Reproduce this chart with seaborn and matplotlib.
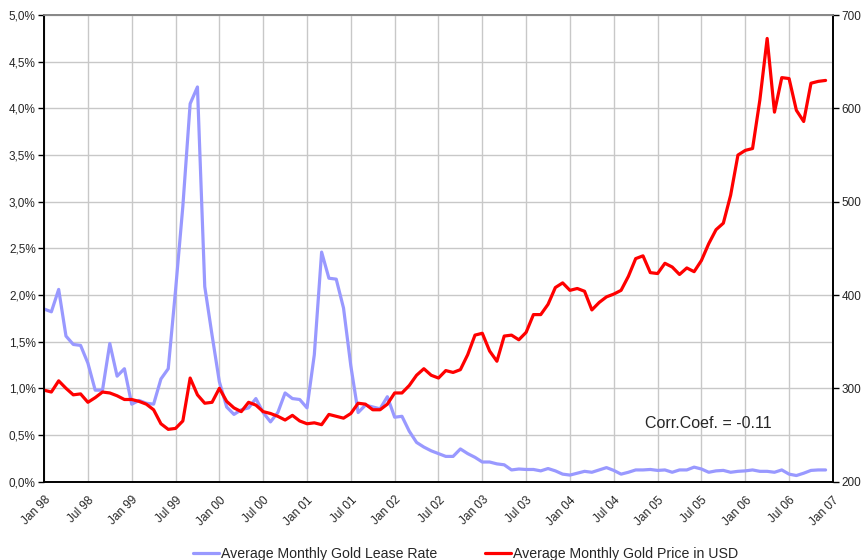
import numpy as np
import pandas as pd
import seaborn as sns
import matplotlib.pyplot as plt
from matplotlib.ticker import FuncFormatter

# x tick labels, one every 6 months
tick_labels = ["Jan 98", "Jul 98", "Jan 99", "Jul 99", "Jan 00", "Jul 00", "Jan 01",
               "Jul 01", "Jan 02", "Jul 02", "Jan 03", "Jul 03", "Jan 04", "Jul 04",
               "Jan 05", "Jul 05", "Jan 06", "Jul 06", "Jan 07"]

# average monthly gold lease rate (%)
lease_rate = [
    1.85, 1.82, 2.06, 1.56, 1.47, 1.46, 1.27, 0.98, 0.98, 1.48, 1.13, 1.21,
    0.83, 0.87, 0.84, 0.83, 1.10, 1.21, 2.05, 2.95, 4.05, 4.23, 2.09, 1.57,
    1.07, 0.80, 0.72, 0.77, 0.79, 0.89, 0.74, 0.64, 0.74, 0.95, 0.89, 0.88,
    0.79, 1.36, 2.46, 2.18, 2.17, 1.86, 1.24, 0.74, 0.82, 0.80, 0.78, 0.91,
    0.69, 0.70, 0.54, 0.42, 0.37, 0.33, 0.30, 0.27, 0.27, 0.35, 0.30, 0.26,
    0.21, 0.21, 0.19, 0.18, 0.125, 0.135, 0.13, 0.13, 0.115, 0.14, 0.115, 0.08,
    0.07, 0.09, 0.11, 0.10, 0.125, 0.15, 0.12, 0.08, 0.10, 0.125, 0.125, 0.13,
    0.12, 0.125, 0.10, 0.125, 0.125, 0.155, 0.135, 0.10, 0.115, 0.12, 0.10, 0.11,
    0.115, 0.125, 0.11, 0.11, 0.10, 0.125, 0.08, 0.065, 0.09, 0.12, 0.125, 0.125,
]

# average monthly gold price (USD)
gold_price = [
    298, 296, 308, 300, 293, 294, 285, 290, 296, 295, 292, 288,
    288, 286, 283, 277, 262, 256, 257, 265, 311, 293, 284, 285,
    300, 286, 279, 275, 285, 282, 275, 273, 270, 266, 271, 265,
    262, 263, 261, 272, 270, 268, 273, 284, 283, 277, 277, 283,
    295, 295, 303, 314, 321, 314, 311, 319, 317, 320, 336, 357,
    359, 340, 329, 356, 357, 352, 360, 379, 379, 390, 408, 413,
    405, 407, 404, 384, 392, 398, 401, 405, 420, 439, 442, 424,
    423, 434, 430, 422, 429, 425, 437, 455, 470, 477, 507, 550,
    555, 557, 609, 675, 596, 633, 632, 598, 586, 627, 629, 630,
]

df = pd.DataFrame({"month": np.arange(len(gold_price)),
                   "lease": lease_rate, "price": gold_price})

sns.set_theme(style="white")
plt.rcParams["font.family"] = ["Liberation Sans", "DejaVu Sans"]

fig, ax = plt.subplots(figsize=(8.64, 5.6), dpi=100)
fig.subplots_adjust(left=0.051, right=0.964, bottom=0.14, top=0.973)
ax2 = ax.twinx()

sns.lineplot(data=df, x="month", y="lease", ax=ax, color="#9999FF", lw=2.3,
             label="Average Monthly Gold Lease Rate", legend=False)
sns.lineplot(data=df, x="month", y="price", ax=ax2, color="#FF0000", lw=2.3,
             label="Average Monthly Gold Price in USD", legend=False)

ax.set_xlim(0, 108)
ax.set_ylim(0, 5)
ax2.set_ylim(200, 700)
ax.set_xticks(np.arange(0, 109, 6))
ax.set_xticklabels(tick_labels, rotation=45, ha="right", rotation_mode="anchor", fontsize=8.5)
ax.set_yticks(np.arange(0, 5.01, 0.5))
ax.yaxis.set_major_formatter(FuncFormatter(lambda v, p: f"{v:.1f}%".replace(".", ",")))
ax2.set_yticks(np.arange(200, 701, 100))
ax.tick_params(axis="y", labelsize=8.5, length=4, width=1, color="black", pad=2)
ax.tick_params(axis="x", length=4, width=1, color="black", pad=5)
ax2.tick_params(axis="y", labelsize=8.5, length=4, width=1, color="black", pad=2)
ax.set_xlabel("")
ax.set_ylabel("")
ax2.set_ylabel("")

ax.grid(True, color="#C8C8C8", lw=1)
for a in (ax, ax2):
    for s in ("left", "right", "bottom"):
        a.spines[s].set_color("black")
        a.spines[s].set_linewidth(1.2)
    a.spines["top"].set_color("#888888")

ax.text(0.842, 0.124, "Corr.Coef. = -0.11", transform=ax.transAxes,
        ha="center", va="center", fontsize=11.5)

h1, l1 = ax.get_legend_handles_labels()
h2, l2 = ax2.get_legend_handles_labels()
fig.legend(h1 + h2, l1 + l2, loc="lower center", bbox_to_anchor=(0.539, -0.024),
           ncol=2, frameon=False, fontsize=10.2, columnspacing=3.4, handlelength=1.8,
           handletextpad=0.15)

fig.savefig("out.png", dpi=100)
